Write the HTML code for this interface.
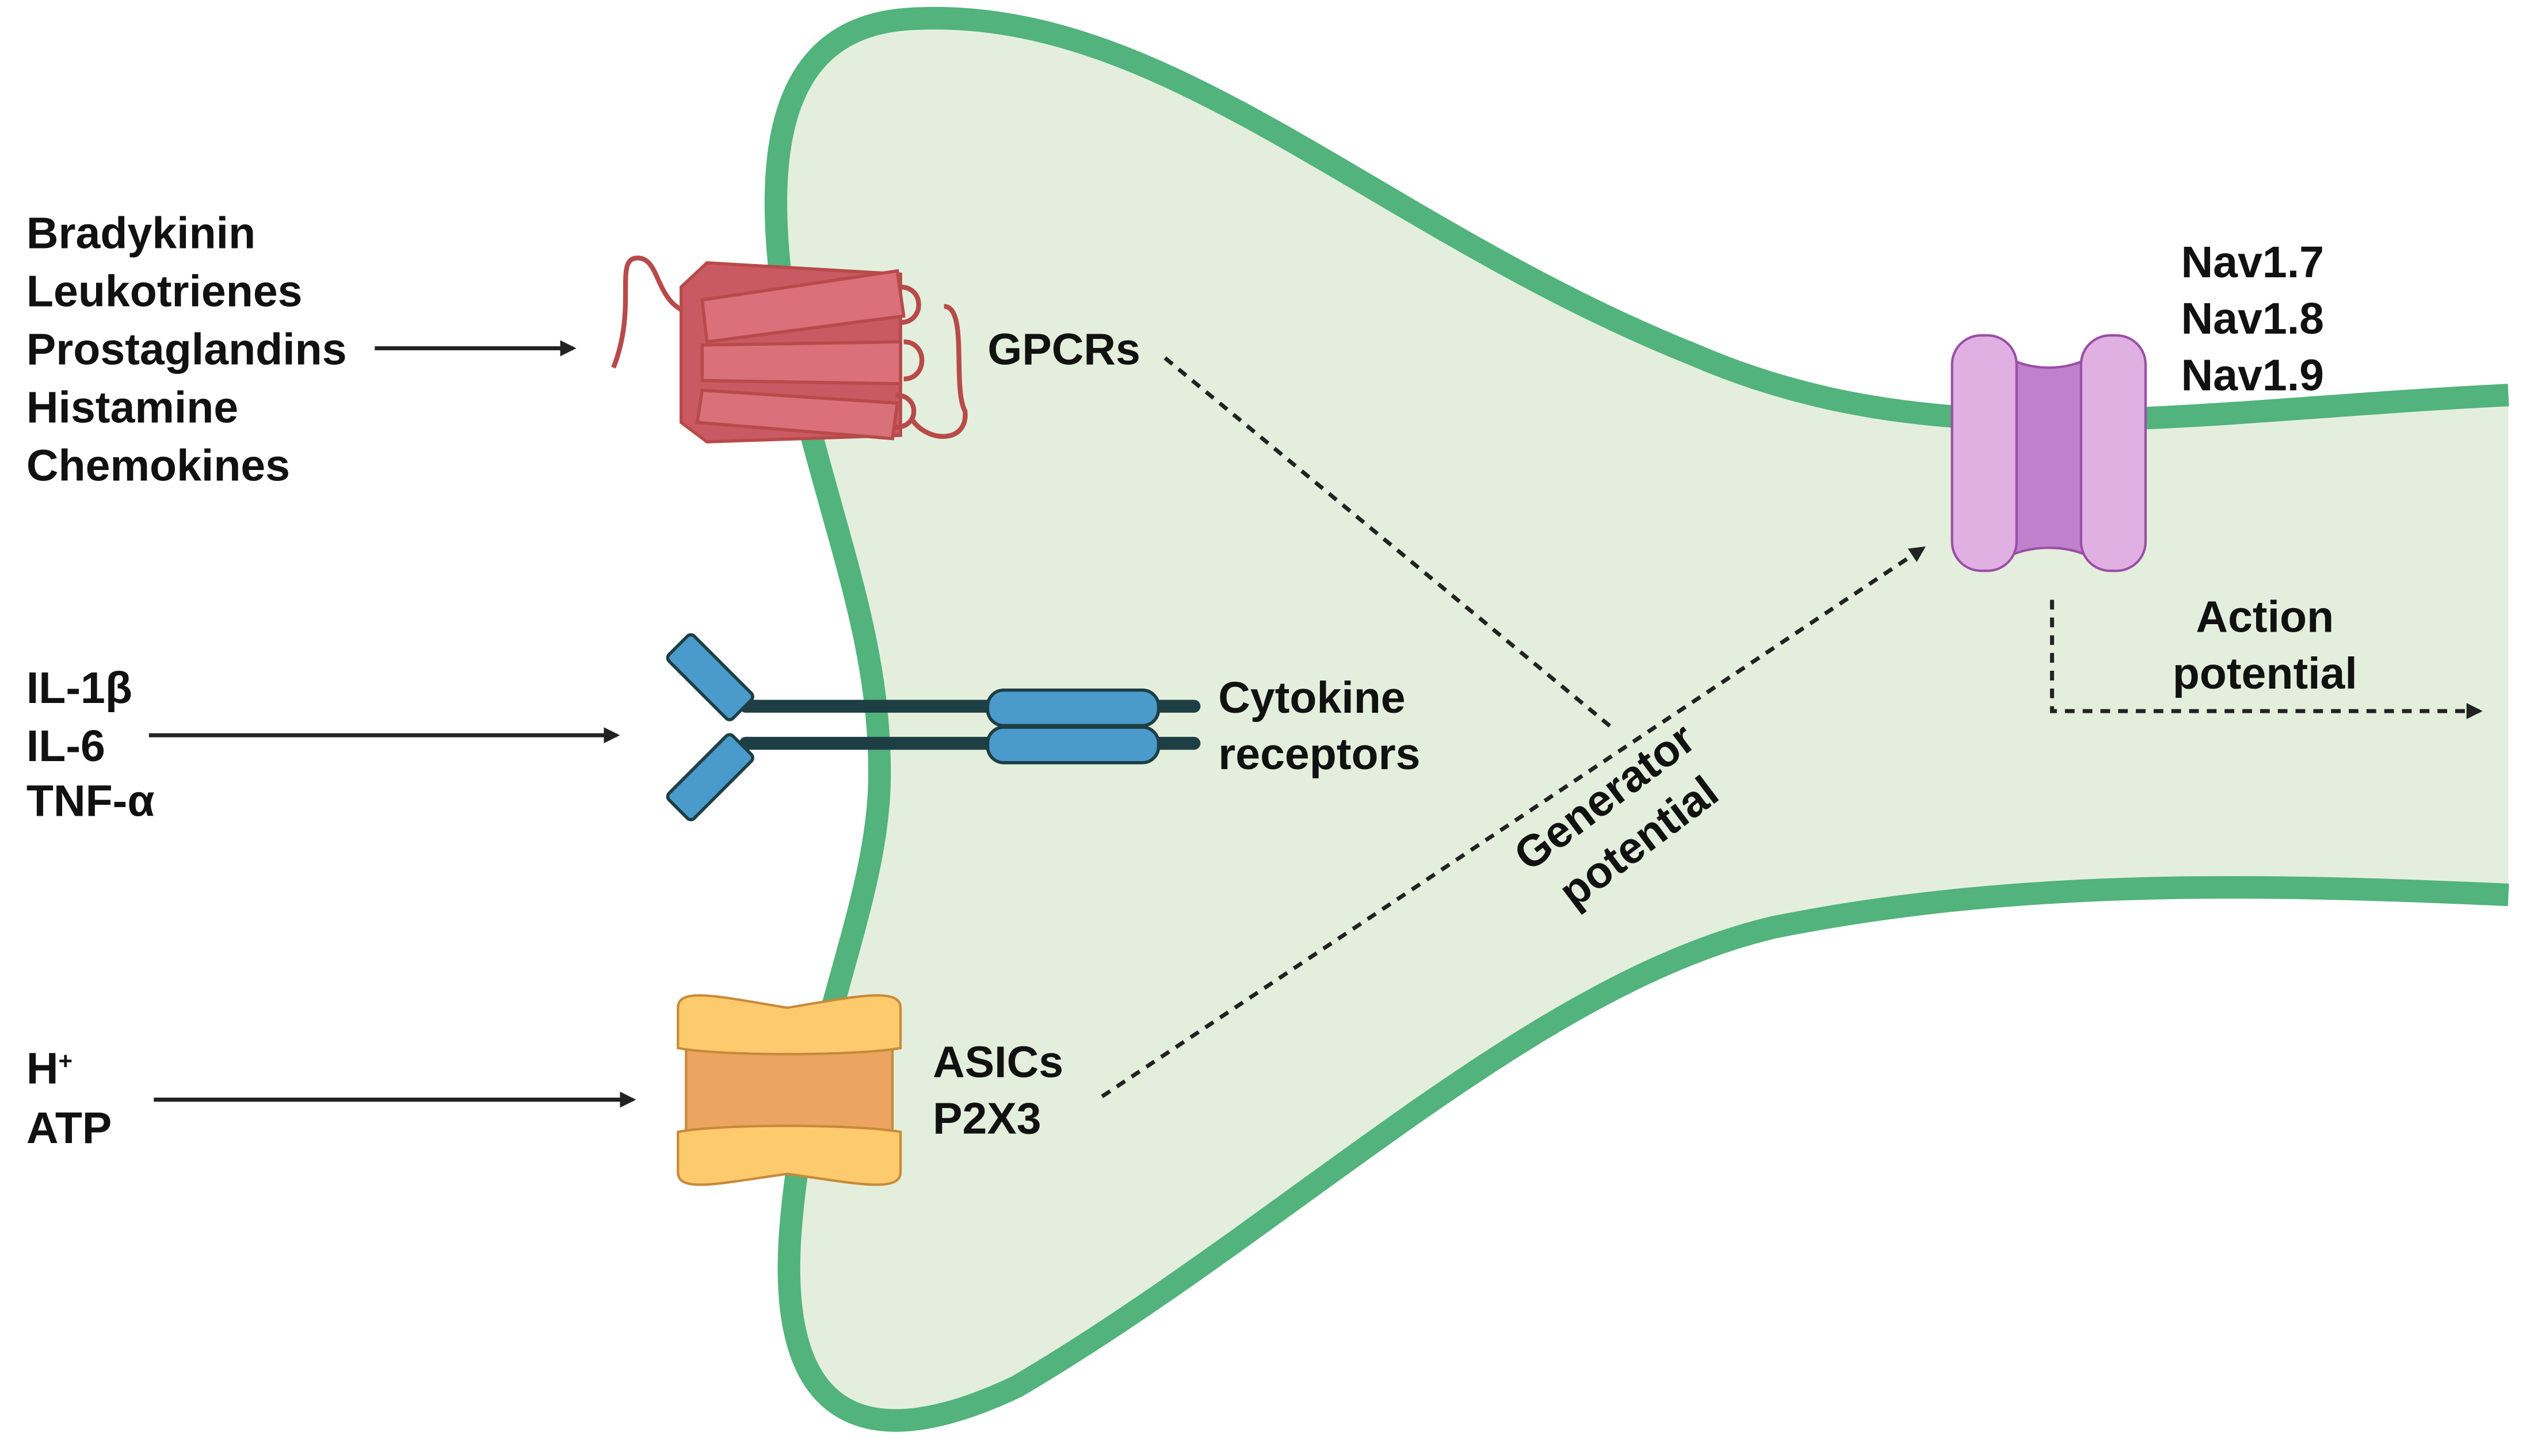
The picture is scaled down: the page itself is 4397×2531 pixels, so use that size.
<!DOCTYPE html>
<html><head><meta charset="utf-8"><style>
html,body{margin:0;padding:0;background:#fff;}
svg{display:block;}
text{font-family:"Liberation Sans",sans-serif;font-weight:bold;fill:#111;font-size:27.5px;}
</style></head><body>
<svg width="4397" height="2531" viewBox="0 0 1568 903" xmlns="http://www.w3.org/2000/svg">
<defs>
<marker id="ah" markerWidth="10" markerHeight="10" refX="8" refY="5" orient="auto" markerUnits="userSpaceOnUse"><path d="M0,0 L10,5 L0,10 z" fill="#222"/></marker>
</defs>
<path d="M1555 245 C1350 255,1200 285,1050 220 C850 140,720 0,560 12 C470 20,470 120,495 240 C520 340,545 400,545 480 C545 560,500 640,490 760 C480 880,535 905,630 860 C800 760,950 610,1100 575 C1250 545,1400 548,1555 555 Z" fill="#e3efdc"/>
<path d="M1555 245 C1350 255,1200 285,1050 220 C850 140,720 0,560 12 C470 20,470 120,495 240 C520 340,545 400,545 480 C545 560,500 640,490 760 C480 880,535 905,630 860 C800 760,950 610,1100 575 C1250 545,1400 548,1555 555" fill="none" stroke="#52b37c" stroke-width="14"/>

<text x="16" y="154">Bradykinin</text>
<text x="16" y="190">Leukotrienes</text>
<text x="16" y="226">Prostaglandins</text>
<text x="16" y="262">Histamine</text>
<text x="16" y="298">Chemokines</text>
<line x1="232" y1="216" x2="355" y2="216" stroke="#222" stroke-width="2.5" marker-end="url(#ah)"/>
<text x="16" y="436">IL-1β</text>
<text x="16" y="472">IL-6</text>
<text x="16" y="506">TNF-α</text>
<line x1="92" y1="456" x2="382" y2="456" stroke="#222" stroke-width="2.5" marker-end="url(#ah)"/>
<text x="16" y="672">H<tspan font-size="15" dy="-9">+</tspan></text>
<text x="16" y="709">ATP</text>
<line x1="95" y1="682" x2="392" y2="682" stroke="#222" stroke-width="2.5" marker-end="url(#ah)"/>

<g stroke="#b84a4a" stroke-width="2" fill="#d9707a">
<path d="M380 228 C395 190,380 160,395 160 C410 160,405 190,430 195" fill="none" stroke-width="3"/>
<path d="M585 190 C600 190,590 240,598 255 C600 275,575 275,565 260" fill="none" stroke-width="3"/>
<polygon points="422,178 438,163 558,170 558,270 438,274 422,262" fill="#c95a63"/>
<polygon points="435,186 556,168 560,196 438,212"/>
<polygon points="435,214 558,212 558,238 435,236"/>
<polygon points="435,242 556,250 553,272 432,262"/>
<path d="M558 178 C573 178,573 200,558 200 M560 212 C575 212,575 235,560 235 M555 245 C570 245,570 265,555 265" fill="none" stroke-width="3"/>
</g>
<text x="612" y="226">GPCRs</text>

<g stroke="#1d3f44" stroke-width="2">
<line x1="462" y1="438" x2="740" y2="438" stroke="#1d3f44" stroke-width="8" stroke-linecap="round"/>
<line x1="462" y1="461" x2="740" y2="461" stroke="#1d3f44" stroke-width="8" stroke-linecap="round"/>
<rect x="612" y="428" width="106" height="22" rx="10" fill="#4a9acb"/>
<rect x="612" y="451" width="106" height="22" rx="10" fill="#4a9acb"/>
<g transform="translate(440,420) rotate(45)"><rect x="-28" y="-11" width="56" height="22" rx="3" fill="#4a9acb"/></g>
<g transform="translate(440,482) rotate(-45)"><rect x="-28" y="-11" width="56" height="22" rx="3" fill="#4a9acb"/></g>
</g>
<text x="755" y="442">Cytokine</text>
<text x="755" y="477">receptors</text>

<g stroke="#c88a3a" stroke-width="1.5">
<rect x="425" y="640" width="128" height="72" fill="#eba561"/>
<path d="M420 625 C420 612,445 618,488 625 C530 618,558 612,558 625 L558 650 C530 655,445 655,420 650 Z" fill="#fdcb6e"/>
<path d="M420 702 C445 697,530 697,558 702 L558 727 C558 740,530 734,488 728 C445 734,420 740,420 727 Z" fill="#fdcb6e"/>
</g>
<text x="578" y="668">ASICs</text>
<text x="578" y="703">P2X3</text>

<g stroke="#9a4fa5" stroke-width="1.5">
<path d="M1245 222 C1260 230,1280 230,1295 222 L1295 345 C1280 338,1260 338,1245 345 Z" fill="#c080cc"/>
<rect x="1210" y="208" width="40" height="146" rx="18" fill="#e1b0e3"/>
<rect x="1290" y="208" width="40" height="146" rx="18" fill="#e1b0e3"/>
</g>
<text x="1352" y="172">Nav1.7</text>
<text x="1352" y="207">Nav1.8</text>
<text x="1352" y="242">Nav1.9</text>

<g stroke="#222" stroke-width="2.5" stroke-dasharray="6,5" fill="none">
<line x1="722" y1="222" x2="1000" y2="452"/>
<line x1="683" y1="680" x2="1192" y2="340" marker-end="url(#ah)"/>
<polyline points="1272,372 1272,441 1537,441" marker-end="url(#ah)"/>
</g>
<text x="1404" y="392" text-anchor="middle">Action</text>
<text x="1404" y="427" text-anchor="middle">potential</text>
<g transform="translate(1005,508) rotate(-37)">
<text x="0" y="-8" text-anchor="middle">Generator</text>
<text x="0" y="27" text-anchor="middle">potential</text>
</g>
</svg>
</body></html>
